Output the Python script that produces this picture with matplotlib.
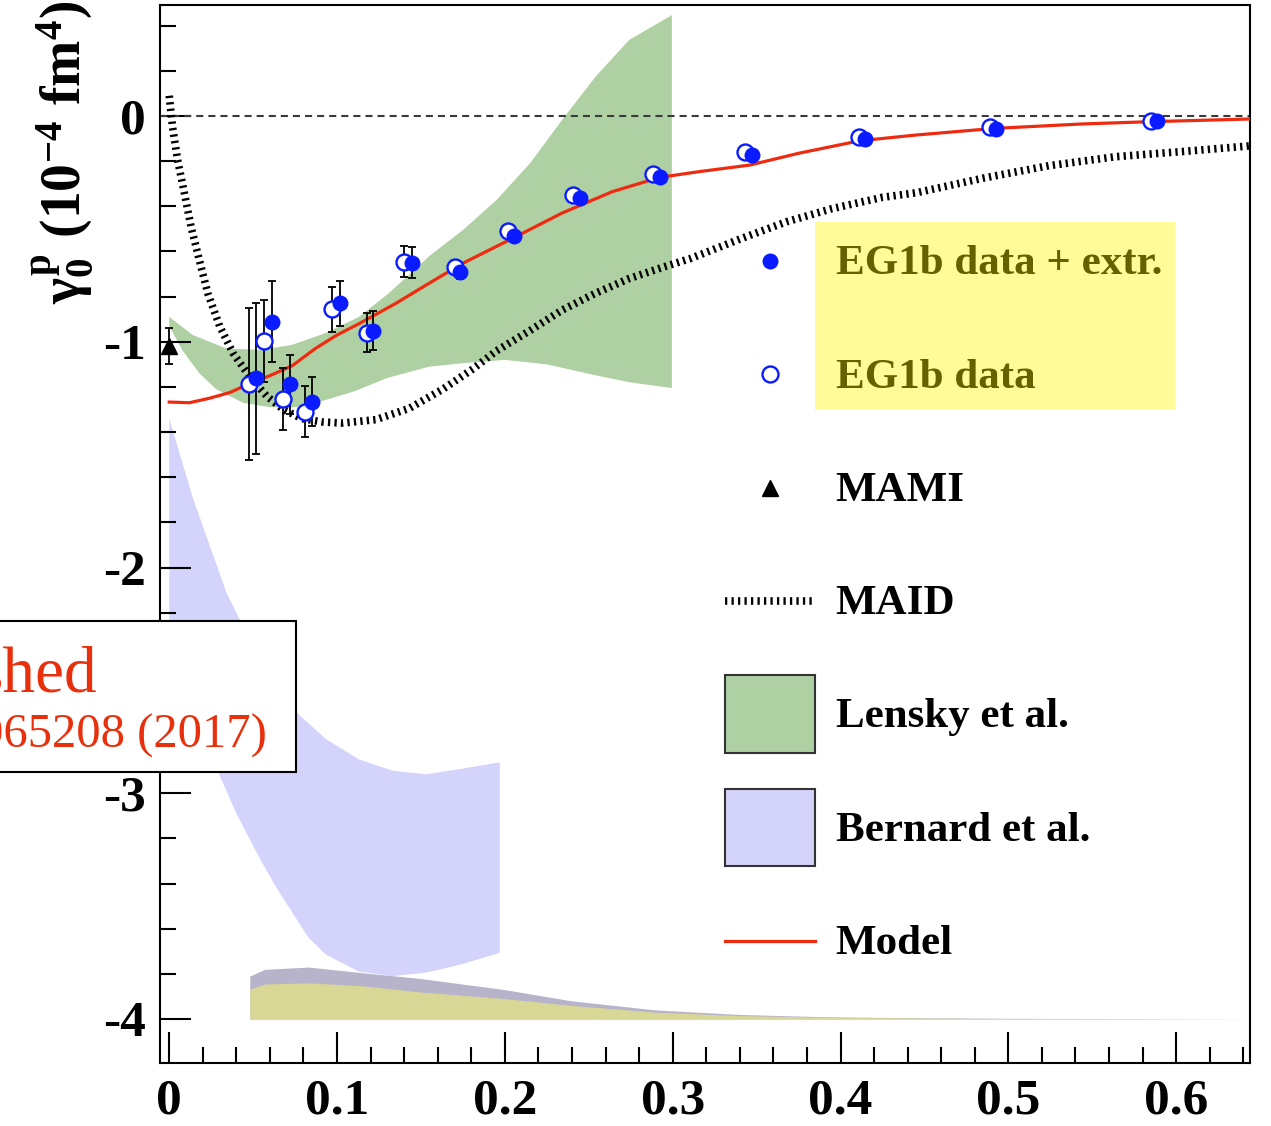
import matplotlib.pyplot as plt
from matplotlib.legend_handler import HandlerLine2D
from matplotlib.lines import Line2D
from matplotlib.patches import Patch, Rectangle

plt.rcParams['font.family'] = ['Liberation Serif', 'DejaVu Serif']
plt.rcParams['font.weight'] = 'bold'
plt.rcParams['mathtext.fontset'] = 'custom'
plt.rcParams['mathtext.rm'] = 'Liberation Serif:bold'
plt.rcParams['mathtext.it'] = 'Liberation Serif:bold'
plt.rcParams['mathtext.bf'] = 'Liberation Serif:bold'

# EG1b data + extrapolation (filled)
q2_ext = [0.0517, 0.0610, 0.0719, 0.0850, 0.1017, 0.1212, 0.1446, 0.1734,
          0.2056, 0.2450, 0.2924, 0.3470, 0.4148, 0.4927, 0.5884]
g0_ext = [-1.162, -0.911, -1.188, -1.265, -0.830, -0.950, -0.650, -0.693,
          -0.531, -0.362, -0.270, -0.172, -0.100, -0.057, -0.024]
err_ext = [0.335, 0.180, 0.130, 0.110, 0.100, 0.087, 0.068, 0.030,
           0.0, 0.0, 0.0, 0.0, 0.0, 0.0, 0.0]

# EG1b data (open)
q2_dat = [0.0477, 0.0566, 0.0676, 0.0809, 0.0967, 0.1176, 0.1400, 0.1700,
          0.2020, 0.2408, 0.2884, 0.3430, 0.4110, 0.4890, 0.5850]
g0_dat = [-1.187, -0.996, -1.254, -1.309, -0.856, -0.959, -0.645, -0.667,
          -0.509, -0.348, -0.256, -0.161, -0.091, -0.050, -0.021]
err_dat = [0.335, 0.180, 0.137, 0.114, 0.100, 0.085, 0.068, 0.030,
           0.0, 0.0, 0.0, 0.0, 0.0, 0.0, 0.0]

# MAMI real-photon point
q2_mami = [0.0]
g0_mami = [-1.02]
err_mami = [0.08]

# MAID
q2_maid = [0.0, 0.002, 0.005, 0.009, 0.013, 0.018, 0.023, 0.030, 0.038, 0.048,
           0.058, 0.068, 0.079, 0.091, 0.103, 0.123, 0.143, 0.163, 0.181, 0.195,
           0.215, 0.234, 0.254, 0.274, 0.294, 0.311, 0.340, 0.368, 0.395, 0.425,
           0.445, 0.485, 0.524, 0.564, 0.604, 0.644]
g0_maid = [0.09, -0.05, -0.195, -0.34, -0.49, -0.64, -0.785, -0.93, -1.05, -1.155,
           -1.24, -1.30, -1.34, -1.355, -1.36, -1.345, -1.295, -1.21, -1.12, -1.04,
           -0.95, -0.86, -0.785, -0.72, -0.67, -0.63, -0.545, -0.468, -0.41, -0.36,
           -0.34, -0.275, -0.22, -0.18, -0.157, -0.132]

# Model
q2_model = [0.0, 0.012, 0.024, 0.036, 0.048, 0.060, 0.0735, 0.087, 0.100, 0.113,
            0.135, 0.155, 0.175, 0.205, 0.234, 0.264, 0.292, 0.316, 0.346, 0.375,
            0.411, 0.445, 0.491, 0.544, 0.584, 0.644]
g0_model = [-1.267, -1.27, -1.25, -1.225, -1.185, -1.15, -1.105, -1.03, -0.97, -0.92,
            -0.83, -0.74, -0.652, -0.54, -0.43, -0.335, -0.272, -0.246, -0.217, -0.165,
            -0.11, -0.084, -0.055, -0.035, -0.025, -0.013]

# Lensky et al. band
q2_lensky_hi = [0.0, 0.014, 0.034, 0.054, 0.073, 0.093, 0.113, 0.130, 0.145,
                0.155, 0.175, 0.195, 0.215, 0.234, 0.254, 0.274, 0.2995]
lensky_hi = [-0.89, -0.97, -1.03, -1.036, -1.014, -0.962, -0.89, -0.79, -0.69,
             -0.62, -0.505, -0.372, -0.209, -0.018, 0.174, 0.337, 0.447]
q2_lensky_lo = [0.0, 0.008, 0.018, 0.028, 0.044, 0.060, 0.075, 0.090, 0.110,
                0.130, 0.155, 0.175, 0.200, 0.225, 0.255, 0.275, 0.2995]
lensky_lo = [-0.93, -1.04, -1.14, -1.21, -1.27, -1.29, -1.29, -1.265, -1.22,
             -1.16, -1.11, -1.095, -1.08, -1.10, -1.15, -1.18, -1.205]

# Bernard et al. band
q2_bern_hi = [0.0, 0.014, 0.034, 0.042, 0.060, 0.0755, 0.0934, 0.113, 0.133,
              0.153, 0.173, 0.197]
bern_hi = [-1.34, -1.69, -2.11, -2.23, -2.46, -2.64, -2.76, -2.85, -2.90,
           -2.916, -2.893, -2.863]
q2_bern_lo = [0.0, 0.010, 0.020, 0.030, 0.040, 0.054, 0.064, 0.0735, 0.083,
              0.0934, 0.113, 0.133, 0.153, 0.173, 0.197]
bern_lo = [-2.25, -2.5, -2.72, -2.92, -3.09, -3.29, -3.42, -3.53, -3.64,
           -3.715, -3.79, -3.81, -3.795, -3.76, -3.707]

# systematic uncertainty bands sitting on -4
q2_sys = [0.048, 0.057, 0.083, 0.115, 0.149, 0.20, 0.24, 0.29, 0.34, 0.39,
          0.45, 0.50, 0.55, 0.60, 0.644]
sys_tot = [-3.81, -3.78, -3.77, -3.795, -3.82, -3.87, -3.92, -3.96, -3.98, -3.99,
           -3.995, -3.997, -3.998, -3.999, -4.0]
sys_exp = [-3.868, -3.845, -3.84, -3.853, -3.88, -3.91, -3.94, -3.97, -3.985, -3.992,
           -3.996, -3.998, -3.999, -3.9995, -4.0]
sys_base = -4.0

blue = '#0a1cff'
red = '#ee2b10'
green = '#afd0a3'
lavender = '#d3d3fb'
maid_dash = (0, (0.3, 0.55))
ms = 11.5


class MidLineHandler(HandlerLine2D):
    """Line/marker handle placed at the vertical middle of the patch box."""

    def create_artists(self, legend, orig_handle, xdescent, ydescent,
                       width, height, fontsize, trans):
        artists = super().create_artists(legend, orig_handle, xdescent,
                                         ydescent, width, height, fontsize,
                                         trans)
        for a in artists:
            n = len(a.get_ydata())
            a.set_ydata([height / 2 - ydescent] * n)
        return artists


W, H = 1271, 1126
fig = plt.figure(figsize=(W / 100, H / 100), dpi=100)
ax = fig.add_axes([160 / W, 1 - 1063 / H, 1090 / W, 1058 / H])

ax.fill(q2_lensky_hi + q2_lensky_lo[::-1], lensky_hi + lensky_lo[::-1],
        color=green, lw=0, zorder=1)
ax.fill(q2_bern_hi + q2_bern_lo[::-1], bern_hi + bern_lo[::-1],
        color=lavender, lw=0, zorder=1)
ax.fill_between(q2_sys, sys_base, sys_tot, color='#b6b3ca', lw=0, zorder=1)
ax.fill_between(q2_sys, sys_base, sys_exp, color='#d9d796', lw=0, zorder=1)

ax.axhline(0, color='#3a3a3a', lw=1.5, ls=(0, (3.4, 2.4)), zorder=2)

ax.plot(q2_maid, g0_maid, color='black', lw=5.5, ls=maid_dash,
        dash_capstyle='butt', zorder=3)
ax.plot(q2_model, g0_model, color=red, lw=2.3, zorder=4)

ax.errorbar(q2_dat, g0_dat, yerr=err_dat, fmt='none', ecolor='black',
            elinewidth=1.3, capsize=2.8, capthick=1.3, zorder=5)
ax.errorbar(q2_ext, g0_ext, yerr=err_ext, fmt='none', ecolor='black',
            elinewidth=1.3, capsize=2.8, capthick=1.3, zorder=5)
ax.plot(q2_dat, g0_dat, 'o', ms=ms, mfc='white', mec=blue, mew=1.7, zorder=6)
ax.plot(q2_ext, g0_ext, 'o', ms=ms, mfc=blue, mec=blue, mew=0, zorder=7)

ax.errorbar(q2_mami, g0_mami, yerr=err_mami, fmt='^', color='black', ms=12,
            elinewidth=1.3, capsize=2.8, capthick=1.3, zorder=7, clip_on=False)

ax.set_xticks([0, 0.1, 0.2, 0.3, 0.4, 0.5, 0.6])
ax.set_xticklabels(['0', '0.1', '0.2', '0.3', '0.4', '0.5', '0.6'])
ax.set_xticks([i * 0.02 for i in range(33)], minor=True)
ax.set_yticks([0, -1, -2, -3, -4])
ax.set_yticklabels(['0', '-1', '-2', '-3', '-4'])
ax.set_yticks([-4 + i * 0.2 for i in range(23)], minor=True)
ax.set_xlim(-0.0055, 0.644)
ax.set_ylim(-4.195, 0.492)

ax.tick_params(which='both', direction='in', width=1.5, labelsize=37)
ax.tick_params(which='major', length=22)
ax.tick_params(which='minor', length=11.5)
ax.tick_params(axis='x', pad=11)
ax.tick_params(axis='y', pad=10)
for s in ax.spines.values():
    s.set_linewidth(1.5)

fig.text(63 / W, 1 - 152 / H, r'$\gamma^{\rm p}_{0}\ (10^{-4}\ {\rm fm}^{4})$',
         rotation=90, ha='center', va='center', fontsize=40)

handles = [
    Line2D([], [], ls='none', marker='o', ms=ms, mfc=blue, mec=blue, mew=0),
    Line2D([], [], ls='none', marker='o', ms=ms, mfc='white', mec=blue, mew=1.7),
    Line2D([], [], ls='none', marker='^', ms=12, color='black'),
    Line2D([], [], color='black', lw=5.5, ls=maid_dash, dash_capstyle='butt'),
    Patch(facecolor=green, edgecolor='#333333', lw=1.5),
    Patch(facecolor=lavender, edgecolor='#333333', lw=1.5),
    Line2D([], [], color=red, lw=2.3),
]
labels = ['EG1b data + extr.', 'EG1b data', 'MAMI', 'MAID', 'Lensky et al.',
          'Bernard et al.', 'Model']
leg = ax.legend(handles, labels, loc='upper left',
                bbox_to_anchor=(725 / W, 1 - 222 / H),
                bbox_transform=fig.transFigure, frameon=False, fontsize=31,
                handlelength=2.1, handleheight=2.41, handletextpad=0.47,
                labelspacing=0.82, borderpad=0, borderaxespad=0,
                handler_map={Line2D: MidLineHandler()})

# yellow highlight over the first two legend rows
fig.add_artist(Rectangle((815 / W, 1 - 410 / H), 360 / W, 188 / H,
                         transform=fig.transFigure, facecolor=(1.0, 0.96, 0.0),
                         alpha=0.4, lw=0, zorder=10))

# publication note box at the left edge
fig.add_artist(Rectangle((-20 / W, 1 - 772 / H), 316 / W, 151 / H,
                         transform=fig.transFigure, facecolor='white',
                         edgecolor='black', lw=1.5, zorder=11))
fig.text(97 / W, 1 - 692 / H, 'shed', color='#e8300c', fontsize=47,
         fontweight='normal', ha='right', va='baseline', zorder=12)
fig.text(267 / W, 1 - 748 / H, '065208 (2017)', color='#e8300c', fontsize=35,
         fontweight='normal', ha='right', va='baseline', zorder=12)

fig.savefig('out.png', dpi=100)
